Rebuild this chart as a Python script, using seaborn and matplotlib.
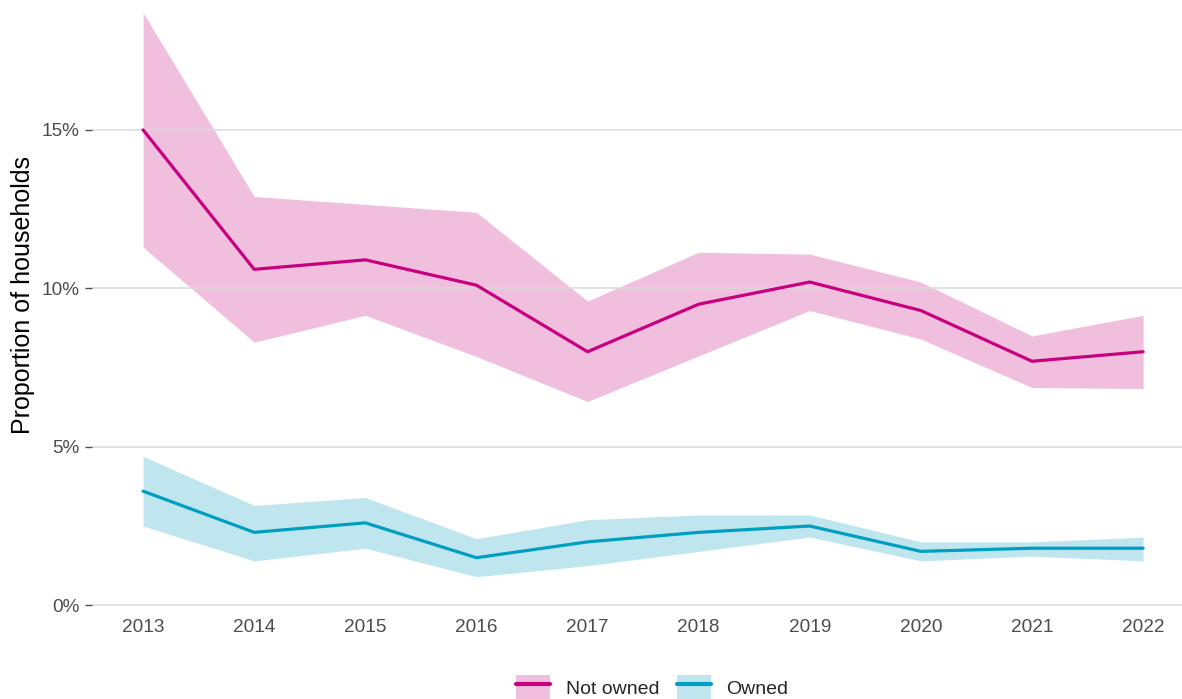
import numpy as np
import pandas as pd
import seaborn as sns
import matplotlib.pyplot as plt
from matplotlib.patches import Patch
from matplotlib.lines import Line2D
from matplotlib.ticker import PercentFormatter

years = [2013, 2014, 2015, 2016, 2017, 2018, 2019, 2020, 2021, 2022]

# proportion of households (%) with lower / upper confidence bounds
not_owned = [15.0, 10.6, 10.9, 10.1, 8.0, 9.5, 10.2, 9.3, 7.7, 8.0]
not_owned_lo = [11.3, 8.3, 9.15, 7.85, 6.43, 7.87, 9.3, 8.4, 6.87, 6.84]
not_owned_hi = [18.7, 12.9, 12.65, 12.4, 9.6, 11.14, 11.08, 10.2, 8.5, 9.15]

owned = [3.6, 2.3, 2.6, 1.5, 2.0, 2.3, 2.5, 1.7, 1.8, 1.8]
owned_lo = [2.5, 1.4, 1.8, 0.9, 1.25, 1.7, 2.15, 1.4, 1.55, 1.4]
owned_hi = [4.7, 3.15, 3.4, 2.1, 2.7, 2.85, 2.85, 2.0, 2.0, 2.15]

groups = ["Not owned", "Owned"]
colours = {"Not owned": "#C8007F", "Owned": "#009EC1"}

df = pd.DataFrame({
    "year": years * 2,
    "value": not_owned + owned,
    "lo": not_owned_lo + owned_lo,
    "hi": not_owned_hi + owned_hi,
    "group": ["Not owned"] * len(years) + ["Owned"] * len(years),
})

sns.set_theme(style="white")
plt.rcParams['font.family'] = ['Liberation Sans', 'DejaVu Sans']

fig = plt.figure(figsize=(11.82, 6.99), dpi=100)
ax = fig.add_axes([92 / 1182, 89 / 699, 1 - 92 / 1182, 1 - 89 / 699])

for g in groups:
    sub = df[df["group"] == g]
    ax.fill_between(sub["year"], sub["lo"], sub["hi"], color=colours[g],
                    alpha=0.25, linewidth=0, zorder=2)

sns.lineplot(data=df, x="year", y="value", hue="group", palette=colours,
             linewidth=2.3, ax=ax, legend=False, zorder=3)

ax.set_xlim(2012.54, 2022.35)
ax.set_ylim(-0.15, 19.1)
ax.set_xticks(years)
ax.set_yticks([0, 5, 10, 15])
ax.yaxis.set_major_formatter(PercentFormatter(decimals=0))
ax.grid(axis="y", color="#DADADA", linewidth=1.1, zorder=4)
ax.set_axisbelow(False)
for s in ax.spines.values():
    s.set_visible(False)
ax.tick_params(axis="y", left=True, length=5, width=1, color="#4D4D4D",
               labelsize=13.7, labelcolor="#4D4D4D", pad=4)
ax.tick_params(axis="x", bottom=False, labelsize=13.7, labelcolor="#4D4D4D", pad=0.5)
ax.set_xlabel("")
ax.set_ylabel("Proportion of households", fontsize=18, color="black")
ax.yaxis.set_label_coords(-0.052, 0.516)

handles = [(Patch(facecolor=colours[g], alpha=0.25, edgecolor="none"),
            Line2D([], [], color=colours[g], linewidth=3)) for g in groups]
fig.legend(handles, groups, loc="center", ncol=2, frameon=False,
           bbox_to_anchor=(0.552, 11 / 699), fontsize=14, handlelength=1.75,
           handleheight=1.75, columnspacing=0.9, handletextpad=0.8)

fig.savefig("out.png", dpi=100)
